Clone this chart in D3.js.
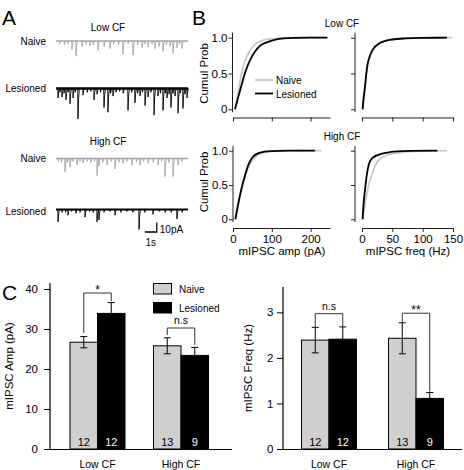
<!DOCTYPE html>
<html><head><meta charset="utf-8">
<script src="https://cdn.jsdelivr.net/npm/d3@7"></script>
<style>
body{margin:0;background:#fff}
svg{display:block}
text{font-family:"Liberation Sans",Arial,Helvetica,sans-serif;fill:#000}
</style>
</head><body>
<svg id="c" width="464" height="470"></svg>
<script>
// ---------- DATA ----------
// Panel A: mIPSC events [time s, amplitude pA]
const traceLowNaive = [[0.3,3],[0.7,4],[1.0,3],[1.33,9],[1.67,16],[2.17,6],[2.5,3],[2.83,5],[3.1,4],[3.5,10],[4.0,6],[4.5,8],[4.8,3],[5.2,4],[5.58,14],[6.0,3],[6.42,15],[6.8,4],[7.17,7],[7.4,3],[7.67,6],[8.0,3],[8.25,8],[8.58,6],[8.92,11],[9.2,4],[9.5,6],[9.75,13],[10.08,7],[10.3,3],[10.5,8]];
const traceLowLesioned = [[0.17,10],[0.33,4],[0.5,9],[0.67,5],[0.83,12],[1.0,4],[1.17,16],[1.42,10],[1.6,4],[1.83,32],[2.25,7],[2.6,4],[2.9,3],[3.17,12],[3.42,6],[3.7,4],[4.0,20],[4.33,25],[4.55,5],[4.75,8],[5.0,4],[5.3,3],[5.6,5],[6.0,23],[6.3,4],[6.58,15],[6.8,5],[7.0,8],[7.2,4],[7.42,18],[7.67,9],[7.9,4],[8.17,28],[8.5,8],[8.7,5],[8.92,23],[9.1,5],[9.25,10],[9.42,6],[9.58,20],[9.75,5],[9.92,8],[10.17,26],[10.35,5],[10.58,21],[10.75,6],[10.92,10]];
const traceHighNaive = [[0.2,3],[0.45,4],[0.75,14],[0.95,4],[1.17,9],[1.4,3],[1.75,7],[2.0,3],[2.25,5],[2.6,3],[2.9,4],[3.2,3],[3.42,18],[3.58,8],[3.9,4],[4.25,7],[4.6,3],[4.92,11],[5.25,4],[5.58,5],[5.9,3],[6.33,7],[6.7,4],[7.0,7],[7.3,3],[7.67,5],[8.1,4],[8.5,7],[8.8,3],[9.08,19],[9.4,4],[9.75,19],[10.17,7],[10.5,3]];
const traceHighLesioned = [[0.17,13],[0.5,3],[0.8,3],[1.0,6],[1.3,2],[1.67,4],[2.0,3],[2.42,8],[2.8,2],[3.1,3],[3.42,13],[3.58,11],[4.0,3],[4.5,2],[4.92,6],[5.4,3],[5.9,2],[6.4,3],[6.92,21],[7.4,3],[8.08,5],[8.6,2],[9.1,3],[9.6,3],[10.08,10],[10.5,3]];
const scaleBarTime = 1;   // s
const scaleBarAmp = 10;   // pA

// Panel B: cumulative distributions [x, cumulative probability]
const ampLowNaive = [[5,0],[10,0.14],[15,0.3],[20,0.44],[25,0.56],[30,0.66],[40,0.79],[50,0.87],[60,0.92],[80,0.97],[100,0.985],[130,0.995],[160,1],[200,1],[245,1]];
const ampLowLesioned = [[5,0],[10,0.1],[15,0.2],[20,0.3],[25,0.4],[30,0.49],[35,0.57],[40,0.64],[50,0.75],[60,0.83],[70,0.89],[80,0.92],[100,0.96],[130,0.99],[160,0.997],[200,1],[243,1]];
const freqLowNaive = [[1,0],[3,0.18],[5,0.32],[7,0.48],[9,0.61],[12,0.71],[15,0.78],[20,0.855],[25,0.895],[30,0.925],[40,0.96],[50,0.975],[70,0.99],[100,0.998],[149,1]];
const freqLowLesioned = [[1,0],[3,0.18],[5,0.32],[7,0.49],[9,0.62],[12,0.72],[15,0.79],[20,0.86],[25,0.9],[30,0.93],[40,0.96],[50,0.975],[70,0.99],[100,0.998],[140,1]];
const ampHighNaive = [[6,0],[10,0.11],[15,0.26],[20,0.38],[25,0.5],[30,0.6],[40,0.76],[50,0.86],[60,0.92],[80,0.97],[100,0.99],[140,0.998],[228,1]];
const ampHighLesioned = [[6,0],[10,0.12],[15,0.27],[20,0.4],[25,0.52],[30,0.62],[40,0.8],[50,0.9],[60,0.95],[80,0.985],[100,0.995],[140,1],[211,1]];
const freqHighNaive = [[1,0],[3,0.12],[5,0.22],[8,0.37],[11,0.5],[15,0.62],[20,0.74],[24,0.82],[30,0.88],[40,0.93],[60,0.97],[90,0.99],[140,1]];
const freqHighLesioned = [[1,0],[2,0.15],[3,0.27],[5,0.43],[8,0.65],[12,0.82],[18,0.9],[27,0.94],[40,0.97],[57,0.99],[80,0.998],[124,1]];
const probTicks = [0,0.5,1];
const probTickLabels = ["0","0.5","1.0"];
const ampTicks = [0,100,200];
const freqTicks = [0,50,100,150];

// Panel C: bar data
const groups = ["Low CF","High CF"];
const conditions = ["Naive","Lesioned"];
const ampNaive = [26.7,25.8], ampNaiveErr = [1.4,2.0];
const ampLesioned = [33.9,23.4], ampLesionedErr = [2.7,2.0];
const freqNaive = [2.39,2.43], freqNaiveErr = [0.28,0.34];
const freqLesioned = [2.41,1.11], freqLesionedErr = [0.27,0.13];
const nNaive = [12,13], nLesioned = [12,9];
const ampSig = ["*","n.s"], freqSig = ["n.s","**"];
const ampTicks2 = [0,10,20,30,40], freqTicks2 = [0,1,2,3];

// ---------- DRAW ----------
const svg = d3.select("#c");
const FONT = '"Liberation Sans",Arial,Helvetica,sans-serif';
const gray = "#c9c9c9", traceGray = "#a4a4a4", axisCol = "#222";

function txt(x,y,s,size,anchor,extra){
  const t = svg.append("text").attr("x",x).attr("y",y).text(s)
    .attr("font-size",size).attr("text-anchor",anchor||"start");
  if(extra) extra(t);
  return t;
}
// panel letters
txt(2,25,"A",21); txt(192,25,"B",21); txt(2,300,"C",21);

// ----- Panel A -----
const tScale = d3.scaleLinear().domain([0,11]).range([56,188]);
function drawTrace(events, base, color, bw){
  const a = d3.scaleLinear().domain([0,10]).range([base, base+9.5]);
  svg.append("line").attr("x1",tScale(0)).attr("x2",tScale(11)).attr("y1",a(0)).attr("y2",a(0))
    .attr("stroke",color).attr("stroke-width",bw);
  const line = d3.line().x(d=>tScale(d[0])).y(d=>a(d[1]));
  events.forEach(e=>{
    const pts = [[e[0]-0.02,0],[e[0],e[1]],[e[0]+0.05,e[1]*0.35],[e[0]+0.12,0]];
    svg.append("path").attr("d",line(pts)).attr("fill","none").attr("stroke",color).attr("stroke-width",0.9);
  });
  return a;
}
txt(108,31,"Low CF",10,"middle");
txt(46,45,"Naive",10,"end"); drawTrace(traceLowNaive,41,traceGray,1.6);
txt(46,92,"Lesioned",10,"end"); drawTrace(traceLowLesioned,88.5,"#000",2.4);
txt(108,145,"High CF",10,"middle");
txt(46,162,"Naive",10,"end"); drawTrace(traceHighNaive,158.5,traceGray,1.6);
txt(46,215,"Lesioned",10,"end");
drawTrace(traceHighLesioned,209.5,"#000",2);
// scale bar
{
  const bx = tScale(7.4), by = 232;
  const w = tScale(scaleBarTime)-tScale(0);
  const a = d3.scaleLinear().domain([0,10]).range([by, by-9.5]);
  svg.append("path").attr("d",`M${bx},${by}H${bx+w}V${a(scaleBarAmp)}`)
    .attr("fill","none").attr("stroke","#000").attr("stroke-width",1.3);
  txt(bx+w+3,233,"10pA",10);
  txt(bx+w/2,246,"1s",10,"middle");
}

// ----- Panel B -----
const xAmp = d3.scaleLinear().domain([0,250]).range([233,330]);
const xFreq = d3.scaleLinear().domain([0,150]).range([362,453]);
const yTop = d3.scaleLinear().domain([0,1]).range([109.3,37.7]);
const yBot = d3.scaleLinear().domain([0,1]).range([219.3,150.7]);

function cdfPanel(x, y, axisX, axisY, xTicks, showXLabels, showYLabels, series){
  const gy = svg.append("g").attr("transform",`translate(${axisX},0)`)
    .call(d3.axisLeft(y).tickValues(probTicks).tickSize(4).tickSizeOuter(0)
      .tickFormat((d,i)=> showYLabels ? probTickLabels[i] : ""));
  gy.select(".domain").remove();
  gy.append("line").attr("x1",0).attr("x2",0).attr("y1",y(-0.04)).attr("y2",y(1.07)).attr("stroke",axisCol);
  const gx = svg.append("g").attr("transform",`translate(0,${axisY})`)
    .call(d3.axisBottom(x).tickValues(xTicks).tickSize(4).tickSizeOuter(0)
      .tickFormat(d=> showXLabels ? d : ""));
  [gx,gy].forEach(g=>{
    g.selectAll(".tick line").attr("stroke",axisCol);
    g.select(".domain").attr("stroke",axisCol);
    g.selectAll("text").attr("font-family",FONT).attr("font-size",11.5).attr("fill","#000");
  });
  gx.selectAll("text").attr("dy","0.75em").attr("y",6);
  gy.selectAll("text").attr("x",-5);
  const line = d3.line().x(d=>x(d[0])).y(d=>y(d[1])).curve(d3.curveMonotoneX);
  series.forEach(s=>{
    svg.append("path").attr("d",line(s.data)).attr("fill","none")
      .attr("stroke",s.color).attr("stroke-width",1.8);
  });
}
cdfPanel(xAmp,yTop,232.5,117.5,ampTicks,false,true,[{data:ampLowNaive,color:gray},{data:ampLowLesioned,color:"#000"}]);
cdfPanel(xFreq,yTop,355,117.5,freqTicks,false,false,[{data:freqLowNaive,color:gray},{data:freqLowLesioned,color:"#000"}]);
cdfPanel(xAmp,yBot,233,228,ampTicks,true,true,[{data:ampHighNaive,color:gray},{data:ampHighLesioned,color:"#000"}]);
cdfPanel(xFreq,yBot,355,228,freqTicks,true,false,[{data:freqHighNaive,color:gray},{data:freqHighLesioned,color:"#000"}]);

txt(342,27,"Low CF",10,"middle");
txt(342,140,"High CF",10,"middle");
txt(204,73.5,"Cumul Prob",11.5,"middle",t=>t.attr("transform","rotate(-90,204,73.5)").attr("dy","0.35em"));
txt(204,182,"Cumul Prob",11.5,"middle",t=>t.attr("transform","rotate(-90,204,182)").attr("dy","0.35em"));
txt(282,255,"mIPSC amp (pA)",11.5,"middle");
txt(408,255,"mIPSC freq (Hz)",11.5,"middle");
// legend
svg.append("line").attr("x1",255).attr("x2",273).attr("y1",80).attr("y2",80).attr("stroke",gray).attr("stroke-width",1.8);
svg.append("line").attr("x1",255).attr("x2",273).attr("y1",93.5).attr("y2",93.5).attr("stroke","#000").attr("stroke-width",1.8);
txt(276,83.5,"Naive",10); txt(276,97.5,"Lesioned",10);

// ----- Panel C -----
function barPanel(opts){
  const {x0range, yDomain, yRange, axisX, axisTop, xEnd, ticks, tickFmt, labelDx, naive, naiveErr, les, lesErr, nN, nL, sig, brackets, ylabel, ylabelX} = opts;
  const y = d3.scaleLinear().domain(yDomain).range(yRange);
  const x0 = d3.scalePoint().domain(groups).range(x0range);
  const x1 = d3.scaleBand().domain(conditions).range([-27.5,27.5]);
  groups.forEach((g,i)=>{
    const vals = [{c:"Naive",v:naive[i],e:naiveErr[i],n:nN[i],fill:"#cfcfcf",tc:"#000"},
                  {c:"Lesioned",v:les[i],e:lesErr[i],n:nL[i],fill:"#000",tc:"#fff"}];
    vals.forEach(d=>{
      const bx = x0(g)+x1(d.c), bw = x1.bandwidth();
      svg.append("rect").attr("x",bx).attr("y",y(d.v)).attr("width",bw).attr("height",y(0)-y(d.v))
        .attr("fill",d.fill).attr("stroke","#000").attr("stroke-width",1);
      const cx = bx+bw/2;
      svg.append("line").attr("x1",cx).attr("x2",cx).attr("y1",y(d.v-d.e)).attr("y2",y(d.v+d.e)).attr("stroke","#000");
      svg.append("line").attr("x1",cx-3.5).attr("x2",cx+3.5).attr("y1",y(d.v+d.e)).attr("y2",y(d.v+d.e)).attr("stroke","#000");
      if(d.c==="Naive") svg.append("line").attr("x1",cx-3.5).attr("x2",cx+3.5).attr("y1",y(d.v-d.e)).attr("y2",y(d.v-d.e)).attr("stroke","#000");
      txt(cx,446,String(d.n),11,"middle",t=>t.style("fill",d.tc));
    });
    const b = brackets[i];
    const lx = x0(g)+x1("Naive")+x1.bandwidth()/2, rx = x0(g)+x1("Lesioned")+x1.bandwidth()/2;
    svg.append("path").attr("d",`M${lx},${y(b[1])}V${y(b[0])}H${rx}V${y(b[2])}`)
      .attr("fill","none").attr("stroke","#333").attr("stroke-width",1);
    const star = sig[i].indexOf("*")>=0;
    txt((lx+rx)/2, y(b[0]) - (star?0:4), sig[i], star?12:10.5, "middle", t=>{ if(star) t.attr("dy","0.1em"); });
    txt(x0(g),468,g,10.5,"middle");
  });
  const gy = svg.append("g").attr("transform",`translate(${axisX},0)`)
    .call(d3.axisLeft(y).tickValues(ticks).tickSize(6).tickSizeOuter(0).tickFormat(tickFmt));
  gy.select(".domain").remove();
  gy.append("line").attr("x1",0).attr("x2",0).attr("y1",y(0)+0.5).attr("y2",axisTop).attr("stroke","#000").attr("stroke-width",1.2);
  gy.selectAll(".tick line").attr("stroke","#000");
  gy.selectAll("text").attr("font-family",FONT).attr("font-size",11.5).attr("fill","#000").attr("x",labelDx);
  svg.append("line").attr("x1",axisX).attr("x2",xEnd).attr("y1",y(0)+0.5).attr("y2",y(0)+0.5).attr("stroke","#000").attr("stroke-width",1.2);
  txt(ylabelX,(y(0)+axisTop)/2,ylabel,11.5,"middle",t=>t.attr("transform",`rotate(-90,${ylabelX},${(y(0)+axisTop)/2})`).attr("dy","0.35em"));
}
barPanel({x0range:[97.5,181], yDomain:[0,40], yRange:[449,289], axisX:50, axisTop:283, xEnd:232,
  ticks:ampTicks2, tickFmt:d=>d, labelDx:-12, naive:ampNaive, naiveErr:ampNaiveErr, les:ampLesioned, lesErr:ampLesionedErr,
  nN:nNaive, nL:nLesioned, sig:ampSig, brackets:[[39,29,37],[30.25,28.5,26]], ylabel:"mIPSC Amp (pA)", ylabelX:9});
barPanel({x0range:[329,416], yDomain:[0,3], yRange:[449,312.3], axisX:283, axisTop:287, xEnd:462,
  ticks:freqTicks2, tickFmt:d=>d, labelDx:-9.5, naive:freqNaive, naiveErr:freqNaiveErr, les:freqLesioned, lesErr:freqLesionedErr,
  nN:nNaive, nL:nLesioned, sig:freqSig, brackets:[[2.97,2.68,2.68],[2.98,2.78,1.26]], ylabel:"mIPSC Freq (Hz)", ylabelX:248});
// legend C
svg.append("rect").attr("x",153.5).attr("y",283.5).attr("width",18).attr("height",10.5).attr("fill","#cfcfcf").attr("stroke","#000");
svg.append("rect").attr("x",153.5).attr("y",302.5).attr("width",18).attr("height",10.5).attr("fill","#000").attr("stroke","#000");
txt(179,292.5,"Naive",10); txt(179,311.5,"Lesioned",10);
</script>
</body></html>
